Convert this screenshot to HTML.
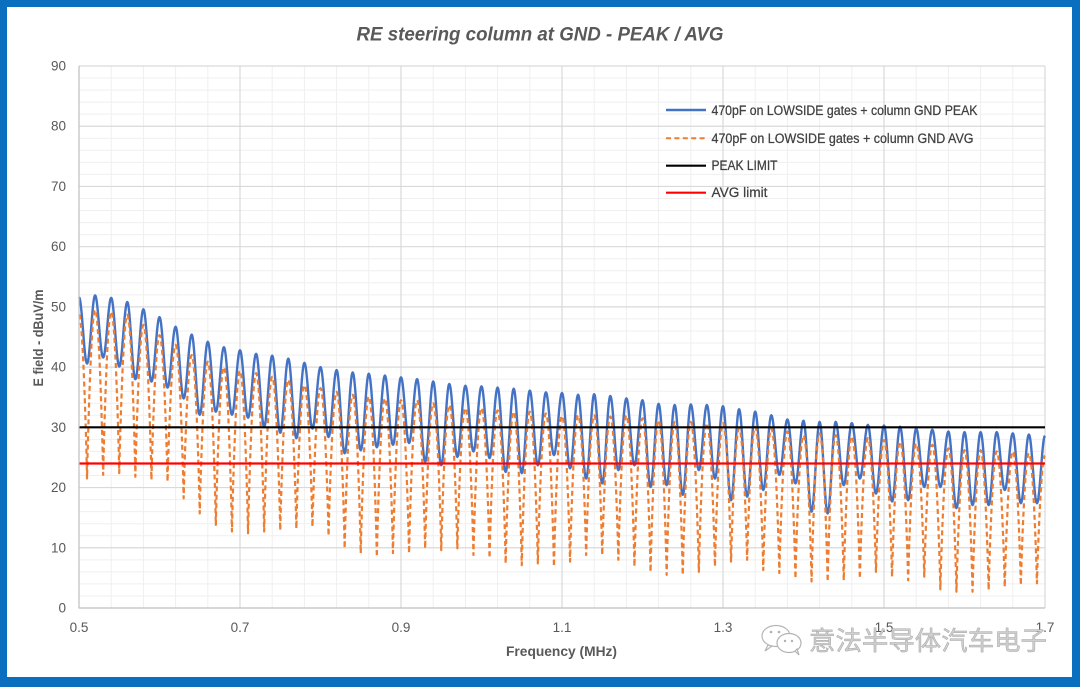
<!DOCTYPE html>
<html>
<head>
<meta charset="utf-8">
<style>
html,body{margin:0;padding:0;background:#fff;}
body{width:1080px;height:687px;overflow:hidden;}
svg{display:block;}
text{font-family:"Liberation Sans","Noto Sans CJK SC",sans-serif;}
</style>
</head>
<body>
<svg id="c" xmlns="http://www.w3.org/2000/svg" width="1080" height="687" viewBox="0 0 1080 687">
  <rect x="0" y="0" width="1080" height="687" fill="#0A6FBF"/>
  <rect x="7" y="7" width="1065" height="670" fill="#ffffff"/>
  <g id="grid"></g>
  <g id="series"></g>
  <!-- limits -->
  <line x1="79" y1="427.3" x2="1045" y2="427.3" stroke="#000000" stroke-width="2.2"/>
  <line x1="79" y1="463.5" x2="1045" y2="463.5" stroke="#FF0000" stroke-width="2.2"/>
  <!-- axis lines -->
  <line x1="79" y1="66" x2="79" y2="608.5" stroke="#bfbfbf" stroke-width="1.2"/>
  <line x1="79" y1="608" x2="1045" y2="608" stroke="#bfbfbf" stroke-width="1.2"/>

  <!-- title -->
  <text x="540" y="40.5" text-anchor="middle" font-size="19" font-weight="bold" font-style="italic" fill="#595959" textLength="367" lengthAdjust="spacingAndGlyphs">RE steering column at GND - PEAK / AVG</text>

  <!-- y tick labels -->
  <g font-size="13.5" fill="#595959" text-anchor="end">
    <text x="66" y="612.5">0</text>
    <text x="66" y="552.3">10</text>
    <text x="66" y="492.1">20</text>
    <text x="66" y="431.8">30</text>
    <text x="66" y="371.6">40</text>
    <text x="66" y="311.4">50</text>
    <text x="66" y="251.2">60</text>
    <text x="66" y="191">70</text>
    <text x="66" y="130.7">80</text>
    <text x="66" y="70.5">90</text>
  </g>
  <!-- x tick labels -->
  <g font-size="13.5" fill="#595959" text-anchor="middle">
    <text x="79" y="632">0.5</text>
    <text x="240" y="632">0.7</text>
    <text x="401" y="632">0.9</text>
    <text x="562" y="632">1.1</text>
    <text x="723" y="632">1.3</text>
    <text x="884" y="632">1.5</text>
    <text x="1045" y="632">1.7</text>
  </g>

  <!-- axis titles -->
  <text x="561.5" y="656" text-anchor="middle" font-size="13.5" font-weight="bold" fill="#595959" textLength="111" lengthAdjust="spacingAndGlyphs">Frequency (MHz)</text>
  <text transform="translate(43,338) rotate(-90)" x="0" y="0" text-anchor="middle" font-size="13.5" font-weight="bold" fill="#595959" textLength="97" lengthAdjust="spacingAndGlyphs">E field - dBuV/m</text>

  <!-- legend -->
  <line x1="666" y1="110" x2="706" y2="110" stroke="#4472C4" stroke-width="2.5"/>
  <line x1="666" y1="138.3" x2="706" y2="138.3" stroke="#ED7D31" stroke-width="2" stroke-dasharray="5 3.4"/>
  <line x1="666" y1="165.7" x2="706" y2="165.7" stroke="#000000" stroke-width="2.2"/>
  <line x1="666" y1="192.7" x2="706" y2="192.7" stroke="#FF0000" stroke-width="2.2"/>
  <g font-size="13.5" fill="#404040" stroke="#404040" stroke-width="0.25">
    <text x="711.5" y="115" textLength="266" lengthAdjust="spacingAndGlyphs">470pF on LOWSIDE gates + column GND PEAK</text>
    <text x="711.5" y="143" textLength="262" lengthAdjust="spacingAndGlyphs">470pF on LOWSIDE gates + column GND AVG</text>
    <text x="711.5" y="170" textLength="66" lengthAdjust="spacingAndGlyphs">PEAK LIMIT</text>
    <text x="711.5" y="197" textLength="56" lengthAdjust="spacingAndGlyphs">AVG limit</text>
  </g>

  <!-- watermark -->
  <g fill="#ffffff" stroke="#b4b4b4" stroke-width="1.2">
    <ellipse cx="776" cy="636" rx="14" ry="10.5"/>
    <path d="M768 645 L765 651 L772 646 Z"/>
    <ellipse cx="789" cy="643" rx="12" ry="9.5"/>
    <path d="M795 651 L799 655 L797 649 Z"/>
  </g>
  <g fill="#b0b0b0">
    <circle cx="771" cy="632" r="1.3"/>
    <circle cx="779" cy="632" r="1.3"/>
    <circle cx="785" cy="641" r="1.2"/>
    <circle cx="792" cy="641" r="1.2"/>
  </g>
  <text x="809" y="650" font-size="26" fill="#cfcfcf" stroke="#a6a6a6" stroke-width="0.5" font-family="'Liberation Sans','Noto Sans CJK SC',sans-serif" textLength="238" lengthAdjust="spacingAndGlyphs">意法半导体汽车电子</text>
</svg>
<script>
(function(){
  var NS='http://www.w3.org/2000/svg';
  function X(t){return 79+t*16.1;}
  function Y(v){return 608-v*542/90;}
  var grid=document.getElementById('grid');
  function ln(x1,y1,x2,y2,col,w){
    var l=document.createElementNS(NS,'line');
    l.setAttribute('x1',x1);l.setAttribute('y1',y1);l.setAttribute('x2',x2);l.setAttribute('y2',y2);
    l.setAttribute('stroke',col);l.setAttribute('stroke-width',w);
    grid.appendChild(l);
  }
  for(var v=0;v<=90;v+=2){ if(v%10!==0){ ln(79,Y(v),1045,Y(v),'#efefef',1);} }
  for(var i=0;i<=30;i++){ if(i%5!==0){ var x=79+i*32.2; ln(x,66,x,608,'#efefef',1);} }
  for(var v2=10;v2<=90;v2+=10){ ln(79,Y(v2),1045,Y(v2),'#d9d9d9',1.2); }
  for(var j=1;j<=6;j++){ var xx=79+j*161; ln(xx,66,xx,608,'#d9d9d9',1.2); }

  var P=[51.6,51.9,51.5,50.8,49.6,48.3,46.7,45.4,44.2,43.3,42.8,42.2,41.9,41.4,40.7,40.0,
         39.5,39.1,38.9,38.6,38.3,38.0,37.6,37.2,36.9,36.8,36.6,36.4,36.1,35.8,35.7,
         35.4,35.5,35.2,34.8,34.5,33.9,33.7,33.8,33.7,33.5,33.0,32.6,32.0,31.3,31.1,
         30.9,30.9,30.7,30.4,30.3,30.1,29.8,29.6,29.3,29.2,29.2,29.2,29.0,28.8,28.6];
  var T=[40.6,41.6,40.1,38.0,37.6,36.6,34.8,32.1,32.6,32.1,31.6,30.1,29.1,28.2,29.8,28.4,
         25.7,26.2,26.7,27.1,27.4,24.3,23.7,25.1,26.0,24.9,22.6,22.4,23.7,25.4,
         23.2,21.5,20.7,22.9,23.7,20.1,20.4,18.8,22.9,21.5,17.9,18.5,19.6,22.1,20.7,
         16.0,15.7,20.4,21.5,19.0,17.7,17.9,20.1,20.1,16.6,17.1,17.1,19.6,17.4,17.4];
  var O=[48.7,49.5,49.2,48.7,47.0,45.3,43.7,42.0,40.9,40.0,39.4,39.0,38.4,37.9,37.0,36.5,
         35.9,35.4,35.1,34.8,34.5,34.5,34.0,33.7,33.2,33.2,32.8,32.6,32.6,32.3,31.9,
         32.0,32.0,31.8,32.0,31.5,31.2,30.9,30.9,30.7,30.7,29.8,30.1,29.8,29.3,28.7,
         29.0,28.7,28.5,28.2,27.9,27.6,27.3,27.1,26.5,26.2,26.2,26.0,26.0,25.7,25.3];
  var D=[21.5,22.1,22.4,21.8,21.3,21.0,18.2,15.7,13.8,12.7,12.4,12.7,12.9,13.2,13.5,12.0,
         9.9,9.1,8.5,9.1,9.1,9.9,9.6,9.9,8.8,8.3,7.4,7.1,7.4,6.9,
         7.7,8.8,8.8,8.0,6.9,6.0,5.5,5.5,6.0,6.9,7.7,8.0,6.3,5.8,4.9,
         4.4,4.4,4.6,4.9,6.0,5.2,4.6,5.2,3.1,2.7,2.7,3.0,3.5,3.8,4.1];
  var bp=[],op=[];
  var N=32;
  for(var k=0;k<60;k++){
    for(var s=0;s<N;s++){
      var u=s/N, t=k+u;
      var c=(1+Math.cos(2*Math.PI*u))/2;
      var Pb=u<=0.5?P[k]:P[k+1];
      var b=T[k]+(Pb-T[k])*c;
      var g=Math.pow(Math.abs(Math.cos(Math.PI*u)),0.85);
      var Po=u<=0.5?O[k]:O[k+1];
      var o=D[k]+(Po-D[k])*g;
      var x=X(t).toFixed(2);
      bp.push(x+' '+Y(b).toFixed(2));
      op.push(x+' '+Y(o).toFixed(2));
    }
  }
  bp.push(X(60).toFixed(2)+' '+Y(P[60]).toFixed(2));
  op.push(X(60).toFixed(2)+' '+Y(O[60]).toFixed(2));
  var ser=document.getElementById('series');
  var pb=document.createElementNS(NS,'path');
  pb.setAttribute('d','M'+bp.join(' L'));
  pb.setAttribute('fill','none');pb.setAttribute('stroke','#4472C4');
  pb.setAttribute('stroke-width','2.4');pb.setAttribute('stroke-linejoin','round');
  ser.appendChild(pb);
  var po=document.createElementNS(NS,'path');
  po.setAttribute('d','M'+op.join(' L'));
  po.setAttribute('fill','none');po.setAttribute('stroke','#ED7D31');
  po.setAttribute('stroke-width','2.2');po.setAttribute('stroke-dasharray','5 3.4');
  po.setAttribute('stroke-linejoin','round');
  ser.appendChild(po);
})();
</script>
</body>
</html>
